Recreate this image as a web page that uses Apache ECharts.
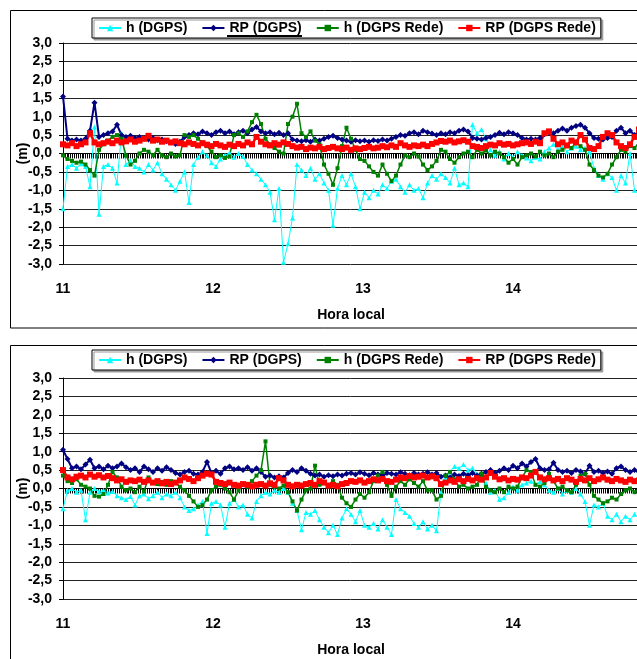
<!DOCTYPE html>
<html>
<head>
<meta charset="utf-8">
<script src="https://cdn.jsdelivr.net/npm/echarts@6/dist/echarts.min.js"></script>
<style>
  html, body { margin: 0; padding: 0; background: #fff; }
  #chart { width: 637px; height: 659px; }
</style>
</head>
<body>
<div id="chart"></div>
<script>
// sample times, hours (local)
var times = [
  11.00,11.03,11.06,11.09,11.12,11.15,11.18,11.21,11.24,11.27,
  11.30,11.33,11.36,11.39,11.42,11.45,11.48,11.51,11.54,11.57,
  11.60,11.63,11.66,11.69,11.72,11.75,11.78,11.81,11.84,11.87,
  11.90,11.93,11.96,11.99,12.02,12.05,12.08,12.11,12.14,12.17,
  12.20,12.23,12.26,12.29,12.32,12.35,12.38,12.41,12.44,12.47,
  12.50,12.53,12.56,12.59,12.62,12.65,12.68,12.71,12.74,12.77,
  12.80,12.83,12.86,12.89,12.92,12.95,12.98,13.01,13.04,13.07,
  13.10,13.13,13.16,13.19,13.22,13.25,13.28,13.31,13.34,13.37,
  13.40,13.43,13.46,13.49,13.52,13.55,13.58,13.61,13.64,13.67,
  13.70,13.73,13.76,13.79,13.82,13.85,13.88,13.91,13.94,13.97,
  14.00,14.03,14.06,14.09,14.12,14.15,14.18,14.21,14.24,14.27,
  14.30,14.33,14.36,14.39,14.42,14.45,14.48,14.51,14.54,14.57,
  14.60,14.63,14.66,14.69,14.72,14.75,14.78,14.81,14.84
];

var seriesNames = ['h (DGPS)', 'RP (DGPS)', 'h (DGPS Rede)', 'RP (DGPS Rede)'];
var yTicks = [-3, 3, 0.5];
var xTicks = [11, 14.84, 1];

// grafico de cima
var hDgps1 = [
  -1.50,-0.35,-0.30,-0.40,-0.28,-0.35,-0.90,0.72,-1.65,-0.35,
  -0.30,-0.40,-0.80,0.55,-0.30,-0.20,-0.35,-0.40,-0.50,-0.30,
  -0.45,-0.25,-0.55,-0.70,-0.85,-1.00,-0.75,-0.50,-1.33,-0.30,
  -0.10,0.05,-0.05,-0.25,-0.35,-0.15,-0.05,0.02,-0.10,0.00,
  -0.08,-0.30,-0.45,-0.55,-0.70,-0.85,-1.05,-1.80,-0.95,-2.95,
  -2.45,-1.75,-0.30,-0.45,-0.60,-0.40,-0.70,-0.55,-0.80,-1.00,
  -1.95,-0.95,-0.60,-0.85,-0.55,-0.90,-1.50,-1.05,-1.20,-1.00,
  -1.10,-0.85,-0.95,-0.75,-0.70,-0.90,-1.05,-0.85,-1.00,-0.95,
  -1.20,-0.80,-0.60,-0.70,-0.55,-0.65,-0.80,-0.40,-0.85,-0.80,
  -0.90,0.78,0.55,0.65,0.40,0.10,-0.05,0.05,-0.15,0.00,
  -0.10,0.05,-0.05,-0.12,-0.20,-0.10,-0.15,0.05,0.15,0.25,
  0.10,0.20,0.05,0.15,0.20,0.10,0.15,0.05,-0.40,-0.60,
  -0.70,-0.55,-0.65,-1.00,-0.60,-0.80,0.00,-1.00,-1.10
];
var rpDgps1 = [
  1.55,0.40,0.35,0.38,0.35,0.40,0.62,1.38,0.45,0.50,
  0.55,0.60,0.78,0.50,0.45,0.48,0.42,0.45,0.40,0.38,
  0.42,0.36,0.38,0.33,0.30,0.26,0.32,0.45,0.50,0.55,
  0.52,0.60,0.55,0.50,0.58,0.62,0.55,0.60,0.52,0.58,
  0.62,0.55,0.65,0.72,0.60,0.55,0.58,0.52,0.56,0.50,
  0.55,0.38,0.35,0.33,0.36,0.32,0.38,0.35,0.40,0.45,
  0.48,0.42,0.38,0.35,0.32,0.36,0.33,0.35,0.32,0.36,
  0.34,0.38,0.35,0.40,0.45,0.50,0.48,0.55,0.58,0.52,
  0.62,0.58,0.54,0.50,0.55,0.52,0.58,0.55,0.62,0.65,
  0.60,0.42,0.40,0.38,0.42,0.45,0.50,0.56,0.52,0.58,
  0.55,0.50,0.42,0.38,0.40,0.38,0.42,0.52,0.58,0.55,
  0.62,0.68,0.62,0.70,0.75,0.78,0.70,0.55,0.42,0.40,
  0.38,0.42,0.45,0.62,0.70,0.55,0.62,0.50,0.55
];
var hRede1 = [
  -0.05,-0.15,-0.20,-0.25,-0.22,-0.30,-0.45,-0.60,0.10,0.25,
  0.35,0.45,0.50,0.40,-0.05,-0.30,-0.20,0.00,0.10,0.05,
  -0.05,0.10,-0.05,-0.10,0.00,-0.08,-0.05,0.50,0.45,0.50,
  0.40,0.30,0.20,0.05,-0.10,-0.05,-0.12,-0.08,0.50,0.55,
  0.45,0.60,0.85,1.05,0.80,0.40,0.25,0.15,0.05,0.00,
  0.80,1.00,1.35,0.55,0.45,0.60,0.35,0.25,-0.30,-0.55,
  -0.85,-0.40,0.20,0.70,0.40,0.10,-0.15,-0.20,-0.35,-0.50,
  -0.60,-0.30,-0.55,-0.75,-0.60,-0.30,-0.05,-0.10,0.00,-0.08,
  -0.30,-0.45,-0.35,-0.20,0.10,0.05,-0.15,-0.25,-0.10,0.00,
  0.05,-0.10,0.10,0.00,0.08,-0.05,0.05,0.00,-0.10,-0.25,
  -0.15,-0.30,-0.10,-0.05,0.00,-0.08,0.05,-0.05,0.00,-0.10,
  0.05,0.10,0.20,0.15,0.30,0.20,0.10,-0.30,-0.45,-0.60,
  -0.65,-0.55,-0.30,-0.10,0.10,0.05,0.20,0.15,0.30
];
var rpRede1 = [
  0.25,0.22,0.28,0.20,0.25,0.30,0.55,0.30,0.25,0.28,
  0.32,0.28,0.35,0.30,0.33,0.38,0.32,0.35,0.40,0.48,
  0.35,0.38,0.32,0.35,0.30,0.33,0.28,0.25,0.30,0.26,
  0.22,0.28,0.24,0.20,0.26,0.22,0.18,0.24,0.20,0.26,
  0.22,0.30,0.25,0.45,0.32,0.25,0.22,0.28,0.24,0.30,
  0.26,0.20,0.16,0.18,0.12,0.16,0.14,0.18,0.12,0.15,
  0.18,0.14,0.12,0.16,0.10,0.14,0.12,0.15,0.18,0.14,
  0.16,0.20,0.17,0.22,0.18,0.28,0.22,0.18,0.22,0.20,
  0.24,0.20,0.26,0.30,0.34,0.32,0.35,0.30,0.33,0.36,
  0.32,0.20,0.18,0.15,0.20,0.24,0.22,0.28,0.24,0.26,
  0.22,0.25,0.28,0.30,0.26,0.32,0.28,0.55,0.60,0.40,
  0.25,0.30,0.22,0.35,0.30,0.50,0.38,0.15,0.12,0.20,
  0.45,0.55,0.50,0.30,0.20,0.15,0.25,0.45,0.65
];

// grafico de baixo
var hDgps2 = [
  -0.55,-0.05,0.00,-0.10,-0.05,-0.85,-0.10,0.00,-0.08,-0.05,
  -0.12,-0.08,-0.20,-0.25,-0.30,-0.22,-0.45,-0.20,-0.15,-0.28,
  -0.20,-0.10,-0.25,-0.15,-0.20,-0.10,-0.25,-0.50,-0.60,-0.55,
  -0.45,-0.35,-1.22,-0.40,-0.35,-0.45,-1.05,-0.40,-0.30,-0.50,
  -0.45,-0.70,-0.80,-0.35,-0.20,-0.10,-0.15,-0.05,-0.10,0.00,
  -0.10,-0.40,-0.60,-1.12,-0.65,-0.70,-0.60,-0.85,-1.05,-1.20,
  -1.00,-1.25,-0.80,-0.55,-0.70,-0.90,-0.60,-1.00,-1.05,-0.95,
  -1.10,-0.85,-1.05,-1.25,-0.30,-0.55,-0.65,-0.75,-0.95,-1.05,
  -0.90,-1.10,-1.00,-1.15,-0.10,0.30,0.45,0.60,0.55,0.65,
  0.50,0.55,0.40,0.25,0.15,-0.10,-0.05,-0.30,-0.25,-0.10,
  0.05,-0.05,0.10,0.15,0.20,0.12,0.18,0.10,-0.05,-0.10,
  0.00,-0.15,-0.05,-0.10,0.00,-0.15,-0.35,-1.00,-0.45,-0.50,
  -0.40,-0.75,-0.85,-0.70,-0.90,-0.75,-0.85,-0.70,-0.80
];
var rpDgps2 = [
  1.05,0.80,0.55,0.60,0.52,0.65,0.78,0.55,0.60,0.52,
  0.62,0.55,0.60,0.68,0.58,0.50,0.55,0.45,0.60,0.52,
  0.45,0.55,0.48,0.58,0.50,0.42,0.38,0.45,0.48,0.40,
  0.38,0.45,0.72,0.42,0.48,0.40,0.55,0.60,0.52,0.55,
  0.50,0.58,0.48,0.55,0.45,0.32,0.35,0.30,0.33,0.30,
  0.42,0.50,0.45,0.55,0.48,0.40,0.35,0.38,0.32,0.36,
  0.33,0.38,0.35,0.40,0.42,0.38,0.44,0.40,0.36,0.42,
  0.38,0.35,0.42,0.40,0.38,0.44,0.40,0.36,0.42,0.38,
  0.40,0.44,0.38,0.42,0.32,0.35,0.30,0.38,0.34,0.40,
  0.36,0.42,0.35,0.40,0.45,0.50,0.42,0.48,0.55,0.50,
  0.62,0.55,0.68,0.60,0.72,0.80,0.55,0.50,0.52,0.70,
  0.50,0.45,0.48,0.42,0.50,0.46,0.40,0.62,0.45,0.48,
  0.42,0.46,0.40,0.55,0.60,0.50,0.45,0.50,0.45
];
var hRede2 = [
  0.35,0.20,0.15,0.25,0.10,0.05,0.00,-0.20,-0.22,-0.15,
  0.10,0.45,0.30,0.05,-0.05,0.00,-0.10,0.05,-0.08,0.30,
  0.15,0.12,0.18,0.10,0.20,0.15,0.05,-0.05,-0.20,-0.35,
  -0.50,-0.45,-0.30,-0.05,0.05,0.10,0.00,-0.10,-0.30,-0.05,
  0.10,0.05,0.20,0.35,0.50,1.28,0.10,0.05,0.00,0.08,
  -0.10,-0.35,-0.60,-0.30,-0.05,0.00,0.62,0.10,0.15,0.05,
  0.20,0.10,-0.25,-0.40,-0.50,-0.30,-0.15,-0.25,-0.10,0.20,
  0.35,0.45,0.10,-0.20,0.05,0.20,0.10,0.25,0.15,0.05,
  0.20,-0.05,-0.05,-0.30,-0.20,0.35,0.45,0.25,0.05,0.10,
  0.00,0.05,0.10,0.40,0.05,-0.05,-0.10,0.00,-0.10,0.05,
  0.00,0.05,0.30,0.50,0.45,0.10,0.05,0.15,0.40,0.20,
  0.00,0.05,-0.05,-0.10,0.10,0.35,0.40,0.10,-0.20,-0.30,
  -0.40,-0.35,-0.25,-0.30,-0.15,-0.05,0.00,-0.10,0.00
];
var rpRede2 = [
  0.50,0.30,0.25,0.32,0.35,0.30,0.38,0.32,0.36,0.30,
  0.34,0.28,0.22,0.25,0.18,0.22,0.20,0.24,0.18,0.22,
  0.16,0.20,0.14,0.18,0.12,0.16,0.22,0.30,0.26,0.20,
  0.28,0.35,0.40,0.38,0.18,0.15,0.12,0.16,0.10,0.08,
  0.12,0.10,0.06,0.10,0.12,0.08,0.14,0.10,0.28,0.22,
  0.10,0.06,0.10,0.08,0.12,0.15,0.10,0.20,0.16,0.08,
  0.10,0.06,0.12,0.15,0.20,0.18,0.22,0.16,0.20,0.25,
  0.22,0.26,0.20,0.18,0.24,0.30,0.28,0.34,0.30,0.32,
  0.35,0.30,0.33,0.28,0.12,0.16,0.22,0.18,0.25,0.20,
  0.26,0.22,0.28,0.24,0.30,0.42,0.32,0.25,0.28,0.22,
  0.26,0.24,0.30,0.28,0.35,0.45,0.30,0.25,0.28,0.22,
  0.26,0.20,0.28,0.24,0.18,0.26,0.22,0.28,0.20,0.25,
  0.30,0.24,0.20,0.26,0.22,0.18,0.24,0.20,0.22
];

var FONT = 'Liberation Sans, Arial, sans-serif';
var txt = { fontFamily: FONT, fontWeight: 'bold', fontSize: 14, color: '#000' };

var chart = echarts.init(document.getElementById('chart'), null, { renderer: 'canvas' });

// estilo de cada serie: cor, marcador, tamanho, espessura
var styles = [
  { color: '#00FFFF', symbol: 'triangle', size: 5, width: 1 },
  { color: '#000080', symbol: 'diamond', size: 6, width: 2 },
  { color: '#008000', symbol: 'rect', size: 4, width: 1.5 },
  { color: '#FF0000', symbol: 'rect', size: 6, width: 2.5 }
];

function pairs(vals) {
  return times.map(function (t, i) { return [t, vals[i]]; });
}

function makeSeries(panel, list) {
  return list.map(function (vals, k) {
    var s = styles[k];
    return {
      name: seriesNames[k],
      type: 'line',
      xAxisIndex: panel * 2,
      yAxisIndex: panel,
      data: pairs(vals),
      symbol: s.symbol,
      symbolSize: s.size,
      showAllSymbol: true,
      animation: false,
      itemStyle: { color: s.color },
      lineStyle: { color: s.color, width: s.width },
      z: 3
    };
  });
}

function yAxisFor(gi) {
  return {
    type: 'value', gridIndex: gi,
    min: yTicks[0], max: yTicks[1], interval: yTicks[2],
    name: '(m)', nameLocation: 'middle', nameGap: 33, nameRotate: 90,
    nameMoveOverlap: false,
    nameTextStyle: txt,
    axisLine: { show: true, lineStyle: { color: '#000', width: 1 } },
    axisTick: { show: true, length: 4, lineStyle: { color: '#000' } },
    axisLabel: Object.assign({ margin: 11, formatter: function (v) { return v.toFixed(1).replace('.', ','); } }, txt),
    splitLine: { show: true, lineStyle: { color: '#222', width: 1 } }
  };
}

function xAxesFor(gi) {
  return [{
    type: 'value', gridIndex: gi,
    min: xTicks[0], max: xTicks[1], interval: xTicks[2],
    position: 'bottom',
    name: 'Hora local', nameLocation: 'middle', nameGap: 44,
    nameMoveOverlap: false,
    nameTextStyle: txt,
    axisLine: { show: false, onZero: false },
    axisTick: { show: false },
    splitLine: { show: false },
    axisLabel: Object.assign({
      margin: 18, showMaxLabel: false,
      formatter: function (v) { return Number.isInteger(v) ? String(v) : ''; }
    }, txt)
  }, {
    // eixo das categorias cruzando no zero (tracinhos pretos)
    type: 'value', gridIndex: gi,
    min: xTicks[0], max: xTicks[1], interval: 0.0125,
    position: 'top',
    axisLine: { show: true, onZero: true, lineStyle: { color: '#000', width: 1 } },
    axisTick: { show: true, inside: true, length: 5, lineStyle: { color: '#000', width: 1 } },
    axisLabel: { show: false },
    splitLine: { show: false }
  }];
}

function legendFor(top) {
  return {
    data: seriesNames,
    left: 92, top: top,
    itemWidth: 22, itemHeight: 8, itemGap: 14,
    padding: [3, 5, 3, 6],
    borderColor: '#000', borderWidth: 1,
    backgroundColor: '#fff',
    shadowColor: '#999', shadowOffsetX: 2, shadowOffsetY: 2, shadowBlur: 0,
    textStyle: txt,
    selectedMode: false
  };
}

var option = {
  backgroundColor: '#fff',
  animation: false,
  legend: [legendFor(18), legendFor(350)],
  grid: [
    { left: 63, right: -2, top: 43, height: 221, outerBoundsMode: 'none', containLabel: false },
    { left: 63, right: -2, top: 378, height: 221, outerBoundsMode: 'none', containLabel: false }
  ],
  xAxis: xAxesFor(0).concat(xAxesFor(1)),
  yAxis: [yAxisFor(0), yAxisFor(1)],
  graphic: [
    { type: 'rect', shape: { x: 10.5, y: 10.5, width: 640, height: 317.5 }, style: { fill: 'none', stroke: '#000', lineWidth: 1 }, z: 0 },
    { type: 'rect', shape: { x: 10.5, y: 345.5, width: 640, height: 330 }, style: { fill: 'none', stroke: '#000', lineWidth: 1 }, z: 0 },
    // sublinhado do "RP (DGPS)" no primeiro grafico
    { type: 'rect', shape: { x: 227, y: 35, width: 75, height: 2 }, style: { fill: '#000' }, z: 100 }
  ],
  series: makeSeries(0, [hDgps1, rpDgps1, hRede1, rpRede1])
    .concat(makeSeries(1, [hDgps2, rpDgps2, hRede2, rpRede2]))
};

chart.setOption(option);
</script>
</body>
</html>
